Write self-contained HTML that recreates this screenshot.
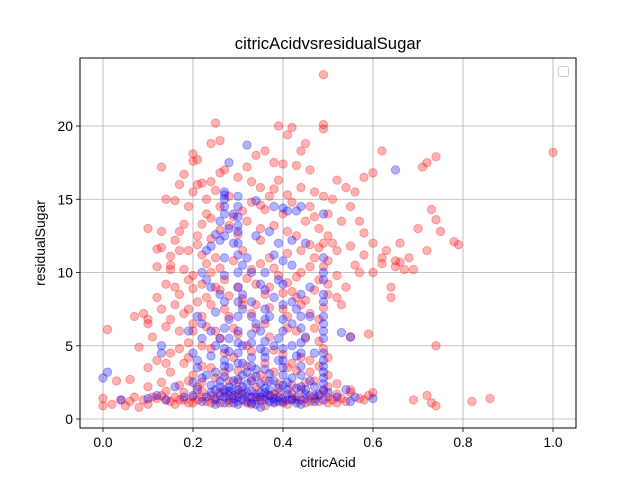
<!DOCTYPE html>
<html><head><meta charset="utf-8"><style>
body{margin:0;background:#fff;font-family:"Liberation Sans","DejaVu Sans",sans-serif}
svg text{font-family:"Liberation Sans","DejaVu Sans",sans-serif;fill:#000}
</style></head><body>
<svg id="chart" width="640" height="480" viewBox="0 0 640 480">
<rect x="0" y="0" width="640" height="480" fill="#fff"/>
<text x="328" y="49" font-size="16.7" text-anchor="middle">citricAcidvsresidualSugar</text>
<g id="grid"></g><g id="ticks"></g><g id="points"></g>
<rect x="80" y="58" width="496" height="370" fill="none" stroke="#000" stroke-width="1"/>
<rect x="558.5" y="66.5" width="10" height="10" rx="2" fill="#fff" stroke="#ccc"/>
<text x="328" y="467" font-size="13.9" text-anchor="middle">citricAcid</text>
<text x="45" y="243" font-size="13.9" text-anchor="middle" transform="rotate(-90 45 243)">residualSugar</text>
</svg>
<script>
const xTicks=[0,0.2,0.4,0.6,0.8,1.0];
const xTickLabels=["0.0","0.2","0.4","0.6","0.8","1.0"];
const yTicks=[0,5,10,15,20];
const yTickLabels=["0","5","10","15","20"];
const redPoints=[[1.0,18.2],[0.86,1.4],[0.82,1.2],[0.74,17.9],[0.72,17.5],[0.71,17.2],[0.73,14.3],[0.74,13.6],[0.78,12.1],[0.79,11.9],[0.74,5.0],[0.70,13.0],[0.69,10.2],[0.68,11.0],[0.66,10.7],[0.65,10.8],[0.64,9.0],[0.64,8.3],[0.65,10.4],[0.72,1.6],[0.73,1.1],[0.74,0.9],[0.69,1.3],[0.72,11.5],[0.6,1.8],[0.59,1.6],[0.58,1.3],[0.62,18.3],[0.6,16.8],[0.58,16.5],[0.56,15.5],[0.55,14.5],[0.57,13.5],[0.58,12.7],[0.55,11.8],[0.56,10.5],[0.57,10.0],[0.54,9.0],[0.53,7.8],[0.55,5.6],[0.55,2.0],[0.54,1.2],[0.62,11.0],[0.6,12.0],[0.62,10.6],[0.49,23.5],[0.49,20.1],[0.49,19.8],[0.42,19.9],[0.41,19.4],[0.39,20.0],[0.45,18.8],[0.44,18.3],[0.25,20.2],[0.26,19.0],[0.24,18.8],[0.2,18.1],[0.21,17.7],[0.13,17.2],[0.36,18.3],[0.34,18.0],[0.38,17.5],[0.4,17.4],[0.43,17.3],[0.46,17.0],[0.18,16.7],[0.17,16.0],[0.2,15.5],[0.22,16.1],[0.24,16.2],[0.27,17.0],[0.3,16.5],[0.33,16.2],[0.35,15.8],[0.38,15.7],[0.44,15.8],[0.47,15.5],[0.51,15.0],[0.52,16.3],[0.16,14.9],[0.19,14.5],[0.23,14.0],[0.26,14.5],[0.29,13.8],[0.33,14.8],[0.36,14.3],[0.4,14.0],[0.45,13.5],[0.48,13.0],[0.5,14.0],[0.1,13.0],[0.13,12.8],[0.17,12.8],[0.21,12.5],[0.24,12.3],[0.3,12.6],[0.35,12.2],[0.43,12.5],[0.46,11.9],[0.49,12.0],[0.52,11.5],[0.12,11.6],[0.15,11.1],[0.19,11.5],[0.22,11.2],[0.25,11.0],[0.31,11.5],[0.37,11.0],[0.41,11.3],[0.47,11.0],[0.5,10.8],[0.12,10.4],[0.15,10.5],[0.18,10.2],[0.2,9.8],[0.24,10.0],[0.27,9.5],[0.33,10.2],[0.39,9.8],[0.44,10.0],[0.48,9.5],[0.14,9.2],[0.17,8.5],[0.2,8.9],[0.23,8.3],[0.26,8.8],[0.3,9.0],[0.36,8.5],[0.42,8.7],[0.45,8.1],[0.5,8.5],[0.52,8.3],[0.07,7.0],[0.1,6.5],[0.13,7.5],[0.16,7.8],[0.19,7.5],[0.22,7.0],[0.27,7.5],[0.34,7.8],[0.4,7.5],[0.46,7.2],[0.49,7.6],[0.01,6.1],[0.08,4.9],[0.11,5.6],[0.14,6.3],[0.17,6.0],[0.2,6.5],[0.25,6.0],[0.29,6.2],[0.36,6.5],[0.43,6.0],[0.47,6.2],[0.12,4.0],[0.15,4.5],[0.19,4.2],[0.22,5.0],[0.27,4.5],[0.32,5.0],[0.38,4.7],[0.44,4.2],[0.49,4.8],[0.1,3.5],[0.15,3.2],[0.2,3.0],[0.24,3.5],[0.3,3.3],[0.35,3.0],[0.41,3.5],[0.46,3.2],[0.5,3.0],[0.03,2.6],[0.06,2.7],[0.1,2.2],[0.13,2.5],[0.17,2.3],[0.22,2.5],[0.28,2.6],[0.34,2.2],[0.39,2.4],[0.45,2.5],[0.5,2.2],[0.0,1.4],[0.0,0.9],[0.02,1.0],[0.04,1.3],[0.06,1.2],[0.07,1.5],[0.09,1.3],[0.1,1.0],[0.12,1.4],[0.13,1.6],[0.15,1.2],[0.16,1.5],[0.17,1.3],[0.18,1.8],[0.19,1.1],[0.2,1.5],[0.21,1.3],[0.22,1.9],[0.23,1.2],[0.24,1.6],[0.25,1.4],[0.26,1.1],[0.27,1.8],[0.28,1.3],[0.29,1.6],[0.3,1.2],[0.31,1.9],[0.32,1.5],[0.33,1.0],[0.34,1.7],[0.35,1.3],[0.36,0.9],[0.37,1.6],[0.38,1.2],[0.39,1.8],[0.4,1.4],[0.41,1.0],[0.42,1.7],[0.43,1.3],[0.44,2.0],[0.45,1.1],[0.46,1.6],[0.47,1.4],[0.48,1.2],[0.49,1.9],[0.5,1.5],[0.51,1.3],[0.52,1.7],[0.53,1.4],[0.14,1.9],[0.08,0.8],[0.05,0.9],
[0.2,17.6],[0.21,16.0],[0.23,15.0],[0.25,15.6],[0.26,16.8],[0.28,15.2],[0.31,14.2],[0.32,17.2],[0.35,14.6],[0.37,15.2],[0.39,16.3],[0.41,15.3],[0.42,14.8],[0.46,14.5],[0.47,13.8],[0.49,15.2],[0.5,12.5],[0.22,13.3],[0.24,13.7],[0.26,12.9],[0.28,13.2],[0.32,13.5],[0.35,13.0],[0.38,13.2],[0.41,12.8],[0.44,11.5],[0.48,11.7],[0.21,11.9],[0.23,10.6],[0.26,10.3],[0.29,10.8],[0.32,9.6],[0.35,10.6],[0.38,10.3],[0.41,9.3],[0.43,9.7],[0.46,10.4],[0.49,10.4],[0.22,9.2],[0.25,9.0],[0.28,8.4],[0.31,8.2],[0.34,9.2],[0.37,9.0],[0.4,8.6],[0.43,8.3],[0.47,8.8],[0.5,9.2],[0.18,7.2],[0.21,8.0],[0.24,7.8],[0.28,7.0],[0.31,7.8],[0.33,7.2],[0.37,7.6],[0.41,7.0],[0.44,7.8],[0.48,6.8],[0.2,6.0],[0.23,6.3],[0.26,5.5],[0.3,5.8],[0.34,6.2],[0.37,5.6],[0.41,6.2],[0.45,5.5],[0.48,5.3],[0.19,5.2],[0.24,4.8],[0.29,4.2],[0.33,4.6],[0.36,3.8],[0.4,4.4],[0.42,3.8],[0.46,4.0],[0.5,4.2],[0.18,3.8],[0.22,3.6],[0.27,3.2],[0.32,3.6],[0.38,3.2],[0.43,3.3],[0.48,3.6],[0.19,2.6],[0.21,2.2],[0.25,2.8],[0.3,2.5],[0.33,2.8],[0.36,2.6],[0.42,2.3],[0.47,2.6],[0.52,2.4],[0.55,1.8],[0.57,1.4],[0.11,1.5],[0.14,1.3],[0.16,1.0],[0.18,1.3],[0.2,1.1],[0.22,1.5],[0.24,1.1],[0.26,1.8],[0.28,1.1],[0.3,1.7],[0.32,1.1],[0.34,1.3],[0.36,1.5],[0.38,1.7],[0.4,1.1],[0.42,1.4],[0.44,1.3],[0.46,1.2],[0.48,1.6],[0.5,1.1],[0.52,1.1],[0.1,6.8],[0.15,10.2],[0.13,11.7],[0.16,12.2],[0.18,13.3],[0.14,15.0],[0.17,11.5],[0.19,9.5],[0.16,9.0],[0.12,8.3],[0.09,7.2],[0.15,6.8],[0.17,4.8],[0.14,3.8],[0.59,5.8],[0.58,11.2],[0.6,10.0],[0.66,12.0],[0.63,11.5],[0.67,10.2],[0.75,12.8],[0.53,13.5],[0.54,15.8],[0.51,12.0],[0.52,9.8]];
const bluePoints=[[0.01,3.2],[0.0,2.8],[0.04,1.3],[0.13,5.0],[0.13,4.5],[0.16,2.2],[0.18,1.5],[0.28,17.5],[0.32,18.7],[0.27,15.5],[0.27,15.3],[0.3,15.2],[0.27,14.5],[0.29,14.0],[0.3,13.8],[0.26,13.5],[0.3,12.8],[0.25,12.6],[0.34,14.9],[0.38,14.5],[0.41,14.2],[0.43,14.2],[0.49,14.0],[0.65,17.0],[0.23,11.5],[0.27,11.0],[0.31,10.5],[0.36,10.0],[0.4,10.8],[0.49,10.0],[0.23,9.5],[0.26,8.5],[0.3,9.0],[0.33,8.0],[0.38,8.3],[0.42,8.0],[0.49,8.5],[0.21,7.0],[0.25,7.3],[0.28,6.8],[0.31,7.5],[0.34,6.5],[0.37,7.0],[0.4,6.8],[0.44,6.2],[0.49,6.5],[0.19,6.0],[0.22,5.5],[0.25,5.0],[0.28,5.5],[0.31,5.0],[0.33,5.8],[0.36,5.3],[0.39,5.5],[0.42,5.0],[0.45,5.6],[0.53,5.9],[0.55,5.6],[0.2,4.5],[0.24,4.3],[0.27,4.0],[0.3,4.5],[0.33,4.2],[0.36,4.6],[0.39,4.0],[0.43,4.3],[0.47,4.5],[0.49,4.0],[0.21,3.5],[0.25,3.2],[0.28,3.5],[0.31,3.0],[0.34,3.4],[0.37,3.1],[0.4,3.5],[0.44,3.0],[0.49,3.2],[0.2,2.5],[0.22,2.8],[0.24,2.3],[0.26,2.6],[0.28,2.2],[0.3,2.7],[0.32,2.4],[0.34,2.9],[0.36,2.1],[0.38,2.6],[0.4,2.3],[0.42,2.8],[0.44,2.2],[0.46,2.6],[0.49,2.4],[0.56,1.5],[0.6,1.4],[0.54,2.0],[0.2,1.6],[0.22,1.2],[0.24,1.8],[0.25,1.3],[0.26,1.6],[0.27,1.1],[0.28,1.9],[0.29,1.4],[0.3,1.0],[0.31,1.7],[0.32,1.2],[0.33,1.5],[0.34,1.0],[0.35,1.8],[0.36,1.3],[0.37,1.6],[0.38,1.1],[0.39,1.5],[0.4,1.2],[0.41,1.7],[0.42,1.3],[0.43,1.5],[0.44,1.0],[0.45,1.4],[0.47,1.2],[0.48,1.7],[0.49,1.3],[0.29,2.0],[0.33,1.9],[0.37,2.0],[0.41,2.0],[0.35,0.8],[0.5,1.8],[0.31,3.8],[0.27,2.9],[0.35,6.0],[0.43,7.5],[0.29,12.0],[0.34,12.5],[0.39,12.0],[0.45,12.0],[0.39,9.5],[0.46,9.0],[0.32,11.0],[0.24,9.0],[0.22,6.5],[0.4,4.8],[0.49,7.0],[0.49,9.5],[0.49,5.5],[0.31,8.5],[0.44,14.5],
[0.27,15.0],[0.27,14.0],[0.3,14.5],[0.3,13.2],[0.3,12.0],[0.27,12.5],[0.3,11.2],[0.3,10.0],[0.3,8.0],[0.3,7.0],[0.3,6.0],[0.3,5.2],[0.3,3.8],[0.27,9.8],[0.27,8.0],[0.27,6.2],[0.27,4.8],[0.27,3.6],[0.33,10.0],[0.33,7.0],[0.33,5.2],[0.33,3.6],[0.36,8.8],[0.36,7.5],[0.36,6.8],[0.36,4.2],[0.36,3.4],[0.4,9.2],[0.4,7.8],[0.4,6.0],[0.4,4.0],[0.4,3.0],[0.44,8.5],[0.44,7.0],[0.44,5.2],[0.44,4.5],[0.44,3.6],[0.49,11.0],[0.49,8.0],[0.49,6.0],[0.49,4.5],[0.49,3.6],[0.49,2.8],[0.49,2.0],[0.21,4.0],[0.21,2.0],[0.23,3.0],[0.23,1.5],[0.25,2.0],[0.25,1.0],[0.27,2.0],[0.27,1.5],[0.29,2.6],[0.29,1.1],[0.31,2.2],[0.31,1.3],[0.33,2.6],[0.33,1.1],[0.35,2.4],[0.35,1.5],[0.37,2.6],[0.37,1.2],[0.39,2.1],[0.39,1.2],[0.41,2.5],[0.41,1.3],[0.43,2.1],[0.43,1.1],[0.45,2.0],[0.45,1.7],[0.47,2.2],[0.47,1.6],[0.32,1.8],[0.34,1.5],[0.36,1.8],[0.38,1.4],[0.28,1.6],[0.26,2.2],[0.3,1.5],[0.3,2.0],[0.32,3.2],[0.35,4.8],[0.38,5.0],[0.42,6.5],[0.46,7.0],[0.24,6.0],[0.26,5.5],[0.28,4.6],[0.24,11.8],[0.26,12.2],[0.28,13.0],[0.4,14.4],[0.42,12.2],[0.37,12.8],[0.42,10.5],[0.38,11.2],[0.35,9.2],[0.22,10.0],[0.52,1.5],[0.55,1.2],[0.14,1.3],[0.12,1.6],[0.1,1.4]];

const NS="http://www.w3.org/2000/svg";
function xs(v){return 103+v*450;}
function ys(v){return 419-v*14.65;}
const grid=document.getElementById('grid'),ticks=document.getElementById('ticks'),pts=document.getElementById('points');
function mk(tag,attrs,parent){const e=document.createElementNS(NS,tag);for(const k in attrs)e.setAttribute(k,attrs[k]);parent.appendChild(e);return e;}
xTicks.forEach((v,i)=>{
  const x=xs(v);
  const g=mk('line',{x1:x,x2:x,y1:58,y2:428,stroke:'#b0b0b0','stroke-width':0.8},grid);
  
  
  const t=mk('line',{x1:x,x2:x,y1:428,y2:432,stroke:'#000','stroke-width':0.8},ticks);
  
  
  const l=mk('text',{x:x,y:447,'font-size':13.9,'text-anchor':'middle'},ticks);
  l.textContent=xTickLabels[i];
  
  
});
yTicks.forEach((v,i)=>{
  const y=ys(v);
  const g=mk('line',{x1:80,x2:576,y1:y,y2:y,stroke:'#b0b0b0','stroke-width':0.8},grid);
  
  
  const t=mk('line',{x1:76,x2:80,y1:y,y2:y,stroke:'#000','stroke-width':0.8},ticks);
  
  
  const l=mk('text',{x:73,y:y+5,'font-size':13.9,'text-anchor':'end'},ticks);
  l.textContent=yTickLabels[i];
  
  
});
function drawSeries(data,color,name){
  data.forEach(d=>{
    const c=mk('circle',{cx:xs(d[0]),cy:ys(d[1]),r:4.2,fill:color,stroke:color,'stroke-width':1,'fill-opacity':0.3,'stroke-opacity':0.3},pts);
    
    
  });
}
drawSeries(redPoints,'#ff0000','red-point');
drawSeries(bluePoints,'#0000ff','blue-point');
</script>
</body></html>
